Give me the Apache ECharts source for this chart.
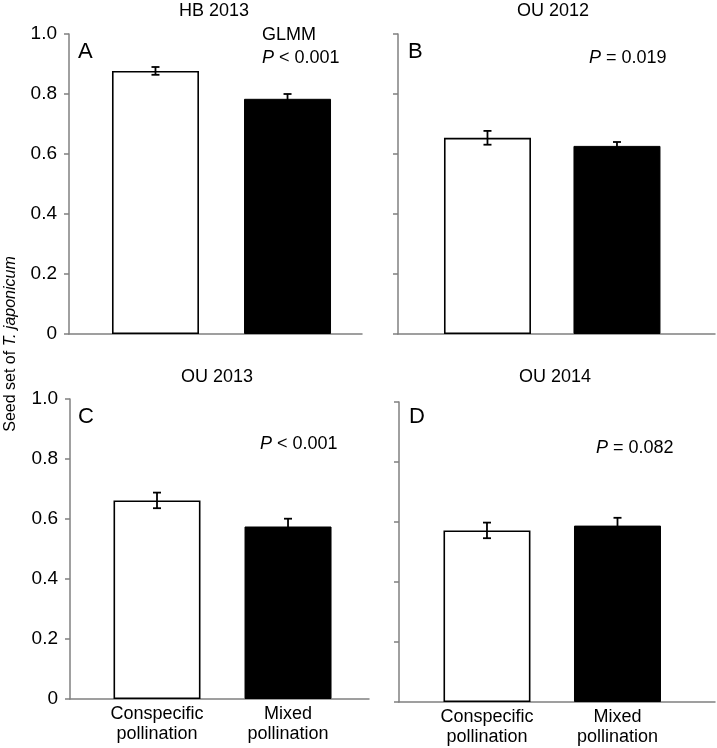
<!DOCTYPE html>
<html>
<head>
<meta charset="utf-8">
<script src="https://cdn.jsdelivr.net/npm/echarts@6/dist/echarts.min.js"></script>
<style>
  html, body { margin: 0; padding: 0; background: #fff; }
  #chart { width: 717px; height: 748px; }
</style>
</head>
<body>
<div id="chart"></div>
<script>
// ---- data ----
const categories = ['Conspecific\npollination', 'Mixed\npollination'];
const panelTitles = ['HB 2013', 'OU 2012', 'OU 2013', 'OU 2014'];
const panelLetters = ['A', 'B', 'C', 'D'];
const pValueTexts = ['{i|P} < 0.001', '{i|P} = 0.019', '{i|P} < 0.001', '{i|P} = 0.082'];
const testName = 'GLMM';
const hb2013Mean = [0.877, 0.784];
const hb2013Err = [0.013, 0.016];
const ou2012Mean = [0.654, 0.627];
const ou2012Err = [0.023, 0.013];
const ou2013Mean = [0.662, 0.575];
const ou2013Err = [0.026, 0.026];
const ou2014Mean = [0.572, 0.588];
const ou2014Err = [0.026, 0.026];
const yTicks = [0, 0.2, 0.4, 0.6, 0.8, 1.0];
const yAxisLabel = 'Seed set of {i|T. japonicum}';

const means = [hb2013Mean, ou2012Mean, ou2013Mean, ou2014Mean];
const errs = [hb2013Err, ou2012Err, ou2013Err, ou2014Err];

// ---- layout ----
const FONT = '"Liberation Sans", Arial, Helvetica, sans-serif';
const grids = [
  { left: 69, top: 34, width: 293, height: 300 },
  { left: 398, top: 34, width: 317, height: 300 },
  { left: 70, top: 399, width: 299, height: 300 },
  { left: 399, top: 402, width: 316, height: 300 }
];
const xRanges = [
  [-0.655, 1.564],
  [-0.691, 1.757],
  [-0.664, 1.618],
  [-0.674, 1.747]
];
const AXIS_COLOR = '#808080';

const xAxes = grids.map((g, i) => ({
  type: 'value',
  gridIndex: i,
  min: xRanges[i][0],
  max: xRanges[i][1],
  axisLine: { show: true, onZero: false, lineStyle: { color: AXIS_COLOR, width: 1.5 } },
  axisTick: { show: false },
  splitLine: { show: false },
  axisLabel: {
    show: i >= 2,
    customValues: [0, 1],
    formatter: v => categories[Math.round(v)],
    fontFamily: FONT,
    fontSize: 18,
    lineHeight: 20,
    color: '#000',
    margin: 5
  }
}));

const yAxes = grids.map((g, i) => ({
  type: 'value',
  gridIndex: i,
  min: 0,
  max: 1,
  interval: 0.2,
  axisLine: { show: true, onZero: false, lineStyle: { color: AXIS_COLOR, width: 1.5 } },
  axisTick: { show: true, inside: false, length: 5, lineStyle: { color: AXIS_COLOR, width: 1.5 } },
  splitLine: { show: false },
  axisLabel: {
    show: i % 2 === 0,
    formatter: v => (v === 0 ? '0' : v.toFixed(1)),
    fontFamily: FONT,
    fontSize: 19,
    color: '#000',
    margin: 12
  }
}));

const series = [];
means.forEach((m, i) => {
  series.push({
    type: 'bar',
    xAxisIndex: i,
    yAxisIndex: i,
    barWidth: 87,
    z: 2,
    data: m.map((v, k) => ({
      value: [k, v],
      itemStyle: k === 0
        ? { color: '#fff', borderColor: '#000', borderWidth: 1.6 }
        : { color: '#000', borderColor: '#000', borderWidth: 1 }
    }))
  });
  series.push({
    type: 'custom',
    xAxisIndex: i,
    yAxisIndex: i,
    z: 5,
    data: m.map((v, k) => [k, v, errs[i][k]]),
    renderItem: (params, api) => {
      const x = api.value(0), y = api.value(1), e = api.value(2);
      const top = api.coord([x, y + e]);
      const bot = api.coord([x, y - e]);
      const hw = 4;
      const st = { stroke: '#000', lineWidth: 1.8 };
      return {
        type: 'group',
        children: [
          { type: 'line', shape: { x1: top[0], y1: top[1], x2: bot[0], y2: bot[1] }, style: st },
          { type: 'line', shape: { x1: top[0] - hw, y1: top[1], x2: top[0] + hw, y2: top[1] }, style: st },
          { type: 'line', shape: { x1: bot[0] - hw, y1: bot[1], x2: bot[0] + hw, y2: bot[1] }, style: st }
        ]
      };
    }
  });
});

const titlePos = [[214, 11], [553, 11], [217, 377], [555, 377]];
const letterPos = [[78, 52], [408, 52], [78, 417], [409, 417]];
const pPos = [[262, 58], [589, 58], [260, 444], [596, 448]];

const graphics = [];
panelTitles.forEach((t, i) => {
  graphics.push({
    type: 'text', x: titlePos[i][0], y: titlePos[i][1],
    style: { text: t, fontFamily: FONT, fontSize: 18, fill: '#000', align: 'center', verticalAlign: 'middle' }
  });
  graphics.push({
    type: 'text', x: letterPos[i][0], y: letterPos[i][1],
    style: { text: panelLetters[i], fontFamily: FONT, fontSize: 22, fill: '#000', align: 'left', verticalAlign: 'middle' }
  });
  graphics.push({
    type: 'text', x: pPos[i][0], y: pPos[i][1],
    style: {
      text: pValueTexts[i], fontFamily: FONT, fontSize: 18, fill: '#000', align: 'left', verticalAlign: 'middle',
      rich: { i: { fontStyle: 'italic', fontFamily: FONT, fontSize: 18 } }
    }
  });
});
graphics.push({
  type: 'text', x: 262, y: 35,
  style: { text: testName, fontFamily: FONT, fontSize: 18, fill: '#000', align: 'left', verticalAlign: 'middle' }
});
graphics.push({
  type: 'text', x: 11, y: 344, rotation: Math.PI / 2,
  style: {
    text: yAxisLabel, fontFamily: FONT, fontSize: 16, fill: '#000', align: 'center', verticalAlign: 'middle',
    rich: { i: { fontStyle: 'italic', fontFamily: FONT, fontSize: 16 } }
  }
});

const chart = echarts.init(document.getElementById('chart'), null, { renderer: 'canvas' });
chart.setOption({
  backgroundColor: '#fff',
  animation: false,
  grid: grids,
  xAxis: xAxes,
  yAxis: yAxes,
  series: series,
  graphic: graphics
});
</script>
</body>
</html>
